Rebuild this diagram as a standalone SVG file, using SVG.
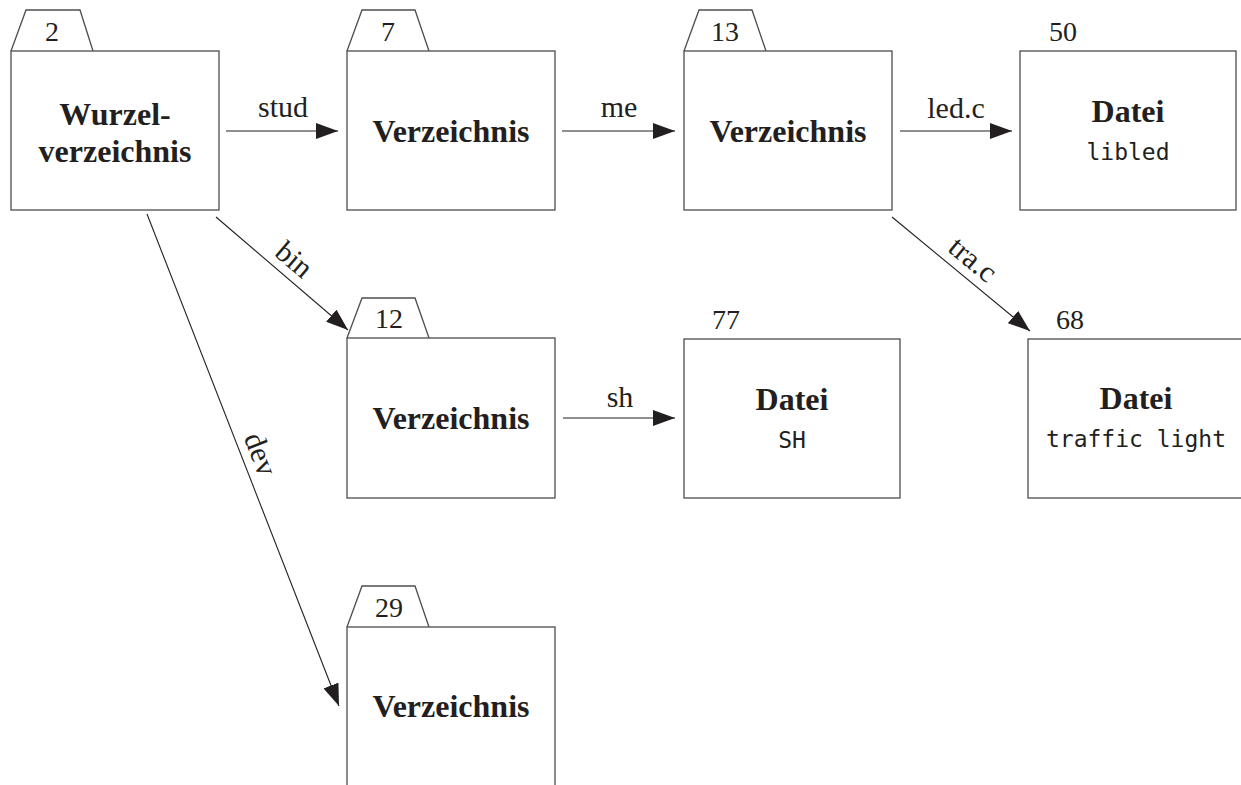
<svg xmlns="http://www.w3.org/2000/svg" width="1241" height="785" viewBox="0 0 1241 785">
<style>
.box{fill:#fff;stroke:#4d4d4d;stroke-width:1.3}
.tab{fill:#fff;stroke:#4d4d4d;stroke-width:1.3;stroke-linejoin:miter}
.t{font-family:"Liberation Serif","Times New Roman",serif;fill:#231f20}
.b{font-weight:bold;font-size:32px;text-anchor:middle}
.n{font-size:28px;text-anchor:middle}
.l{font-size:30px;text-anchor:middle}
.m{font-family:"DejaVu Sans Mono",monospace;font-size:23px;fill:#231f20;text-anchor:middle}
.c{fill:none;stroke:#231f20;stroke-width:1.1;marker-end:url(#ah)}
</style>
<defs>
<marker id="ah" markerUnits="userSpaceOnUse" markerWidth="22" markerHeight="16" refX="22" refY="8" orient="auto" viewBox="0 0 22 16">
<path d="M0,0 L22,8 L0,16 z" fill="#231f20"/>
</marker>
</defs>
<rect width="1241" height="785" fill="#fff"/>
<g id="connectors">
<line class="c" x1="226" y1="131" x2="338" y2="131"/>
<line class="c" x1="562" y1="131" x2="675" y2="131"/>
<line class="c" x1="900" y1="131" x2="1012" y2="131"/>
<line class="c" x1="563" y1="418" x2="675" y2="418"/>
<line class="c" x1="216" y1="217" x2="348" y2="330"/>
<line class="c" x1="892" y1="217" x2="1030" y2="331"/>
<line class="c" x1="147" y1="214" x2="339" y2="706"/>
<text class="t l" x="283" y="117">stud</text>
<text class="t l" x="619" y="117">me</text>
<text class="t l" x="956" y="118">led.c</text>
<text class="t l" x="620" y="407">sh</text>
<text class="t l" transform="translate(282,274) rotate(40.5)" x="0" y="-9">bin</text>
<text class="t l" transform="translate(961,274) rotate(39.5)" x="0" y="-9">tra.c</text>
<text class="t l" transform="translate(243,461) rotate(68.6)" x="0" y="-9">dev</text>
</g>
<g id="node-2">
<path class="tab" d="M11,51 L26,10 L80,10 L93,51"/>
<rect class="box" x="11" y="51" width="208" height="159"/>
<text class="t n" x="52" y="41">2</text>
<text class="t b" x="115" y="125">Wurzel-</text>
<text class="t b" x="115" y="162">verzeichnis</text>
</g>
<g id="node-7">
<path class="tab" d="M347,51 L362,10 L415,10 L429,51"/>
<rect class="box" x="347" y="51" width="208" height="159"/>
<text class="t n" x="388" y="41">7</text>
<text class="t b" x="451" y="142">Verzeichnis</text>
</g>
<g id="node-13">
<path class="tab" d="M684,51 L699,10 L752,10 L766,51"/>
<rect class="box" x="684" y="51" width="208" height="159"/>
<text class="t n" x="725" y="41">13</text>
<text class="t b" x="788" y="142">Verzeichnis</text>
</g>
<g id="node-50">
<rect class="box" x="1020" y="51" width="216" height="159"/>
<text class="t n" x="1063" y="41">50</text>
<text class="t b" x="1128" y="122">Datei</text>
<text class="m" x="1128" y="160">libled</text>
</g>
<g id="node-12">
<path class="tab" d="M347,338 L362,298 L415,298 L429,338"/>
<rect class="box" x="347" y="338" width="208" height="160"/>
<text class="t n" x="389" y="328">12</text>
<text class="t b" x="451" y="429">Verzeichnis</text>
</g>
<g id="node-77">
<rect class="box" x="684" y="339" width="216" height="159"/>
<text class="t n" x="726" y="329">77</text>
<text class="t b" x="792" y="410">Datei</text>
<text class="m" x="792" y="448">SH</text>
</g>
<g id="node-68">
<rect class="box" x="1028" y="339" width="216" height="159"/>
<text class="t n" x="1070" y="329">68</text>
<text class="t b" x="1136" y="409">Datei</text>
<text class="m" x="1136" y="447">traffic light</text>
</g>
<g id="node-29">
<path class="tab" d="M347,627 L362,586 L415,586 L429,627"/>
<rect class="box" x="347" y="627" width="208" height="170"/>
<text class="t n" x="389" y="617">29</text>
<text class="t b" x="451" y="717">Verzeichnis</text>
</g>
</svg>
